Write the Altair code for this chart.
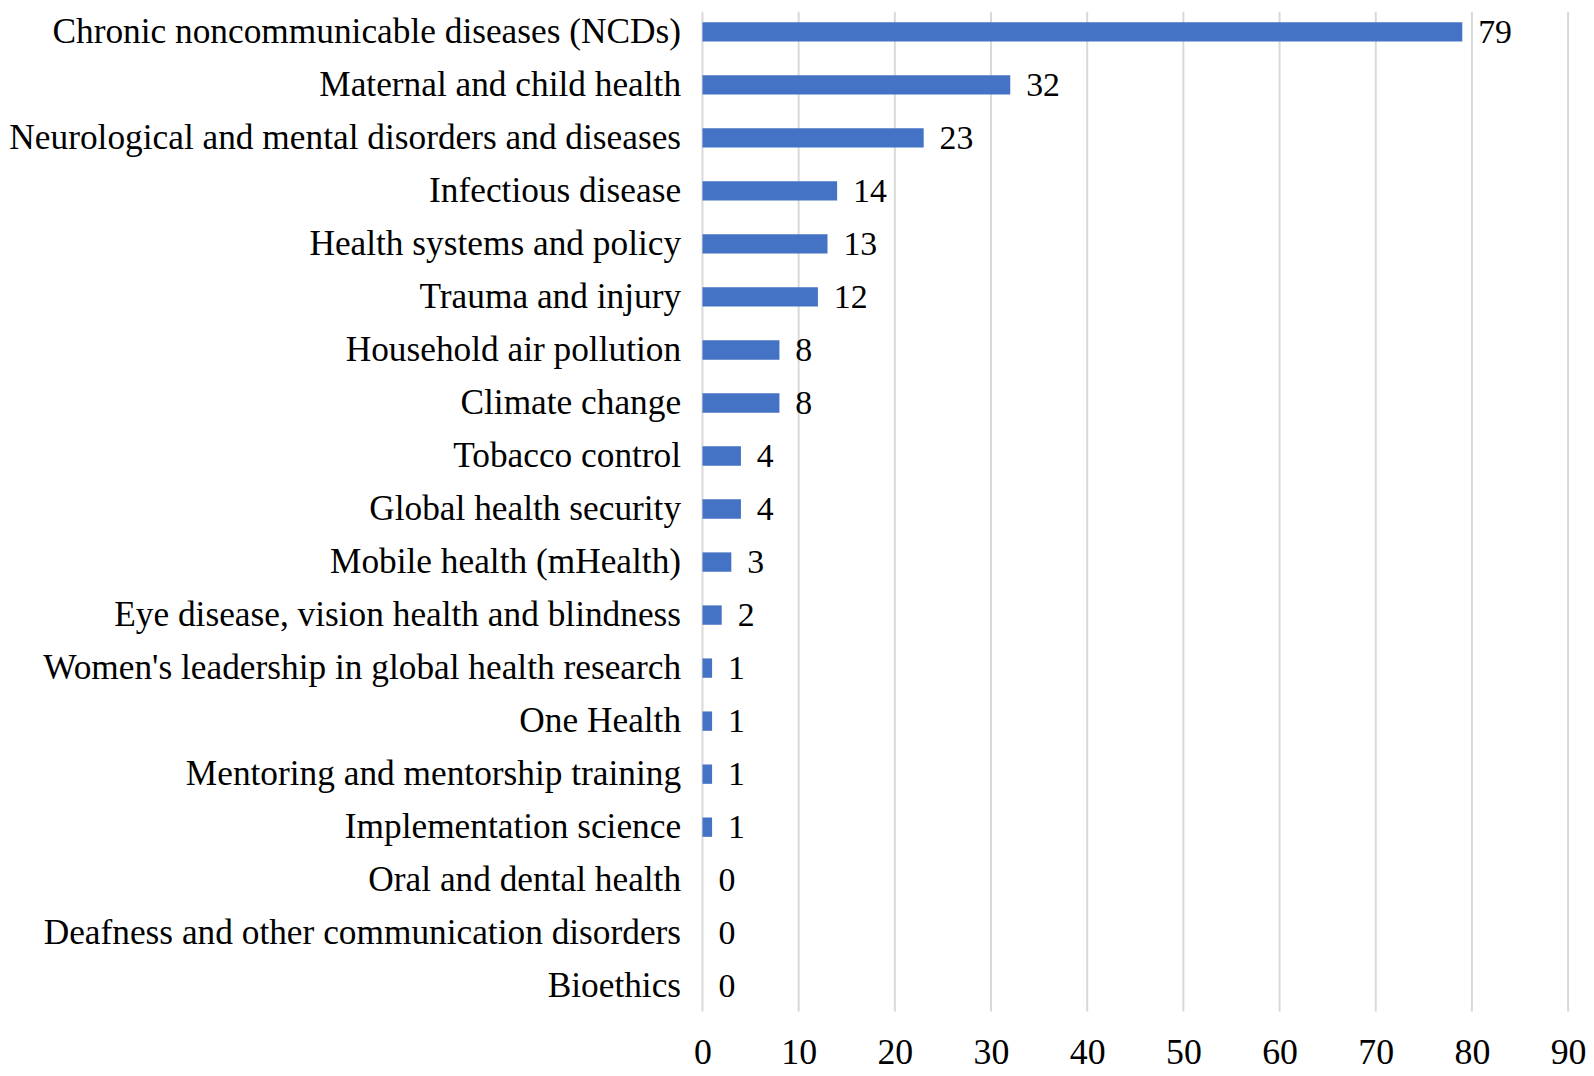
import altair as alt
import pandas as pd

categories = [
    "Chronic noncommunicable diseases (NCDs)",
    "Maternal and child health",
    "Neurological and mental disorders and diseases",
    "Infectious disease",
    "Health systems and policy",
    "Trauma and injury",
    "Household air pollution",
    "Climate change",
    "Tobacco control",
    "Global health security",
    "Mobile health (mHealth)",
    "Eye disease, vision health and blindness",
    "Women's leadership in global health research",
    "One Health",
    "Mentoring and mentorship training",
    "Implementation science",
    "Oral and dental health",
    "Deafness and other communication disorders",
    "Bioethics",
]
values = [79, 32, 23, 14, 13, 12, 8, 8, 4, 4, 3, 2, 1, 1, 1, 1, 0, 0, 0]
x_ticks = [0, 10, 20, 30, 40, 50, 60, 70, 80, 90]

df = pd.DataFrame({"category": categories, "value": values})
grid_df = pd.DataFrame({"tick": x_ticks})

FONT = "Liberation Serif"

y_enc = alt.Y(
    "category:N",
    sort=categories,
    title=None,
    scale=alt.Scale(paddingInner=0.635, paddingOuter=0.2465, align=0.4),
    axis=alt.Axis(
        labelFont=FONT,
        labelFontSize=35.5,
        labelColor="black",
        labelPadding=22,
        labelLimit=1000,
        domain=False,
        ticks=False,
        grid=False,
    ),
)
x_scale = alt.Scale(domain=[0, 90], nice=False, zero=True)
x_enc = alt.X(
    "value:Q",
    title=None,
    scale=x_scale,
    axis=alt.Axis(
        values=x_ticks,
        labelFont=FONT,
        labelFontSize=36,
        labelColor="black",
        labelPadding=24,
        labelFlush=False,
        domain=False,
        ticks=False,
        grid=False,
    ),
)

gridlines = alt.Chart(grid_df).mark_rule(color="#d9d9d9", strokeWidth=2).encode(
    x=alt.X("tick:Q", scale=x_scale)
)
base = alt.Chart(df).encode(x=x_enc, y=y_enc)
bars = base.mark_bar(color="#4472C4")
labels = base.mark_text(
    align="left", baseline="middle", dx=16, dy=1, font=FONT, fontSize=34, color="black"
).encode(text="value:Q")

chart = (
    alt.layer(gridlines, bars, labels)
    .properties(width=870, height=1005, padding=0, background="white")
    .configure_view(stroke=None, strokeWidth=0)
    .configure_axis(domain=False, ticks=False, grid=False)
)

chart.save("out.html", embed_options={"renderer": "svg", "actions": False})
